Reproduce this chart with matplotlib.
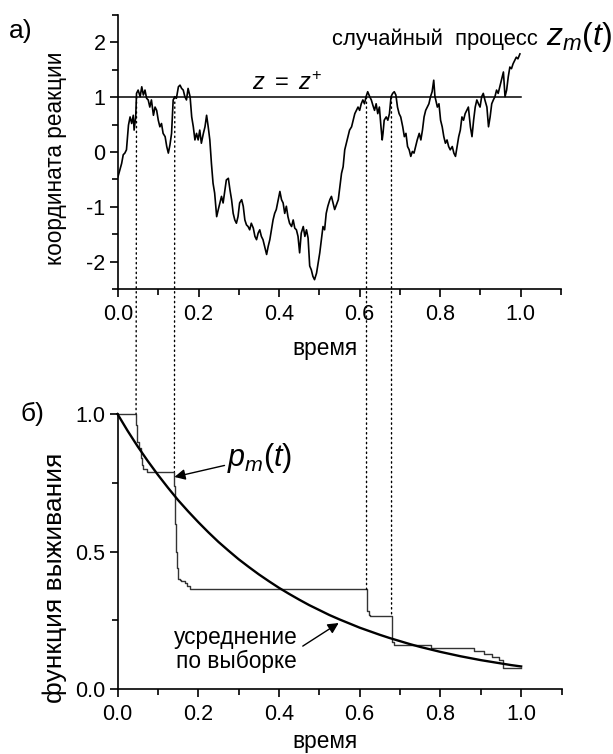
import matplotlib
matplotlib.use('Agg')
import matplotlib.pyplot as plt
from matplotlib.patches import ConnectionPatch

# ---------------- data ----------------
# panel a) random process z_m(t)
path_t = [0.000, 0.009, 0.013, 0.017, 0.021, 0.026, 0.030, 0.034, 0.038, 0.040,
          0.044, 0.046, 0.050, 0.055, 0.059, 0.063, 0.067, 0.071, 0.075, 0.079,
          0.083, 0.088, 0.092, 0.096, 0.100, 0.104, 0.108, 0.112, 0.117, 0.121,
          0.125, 0.129, 0.133, 0.137, 0.141, 0.145, 0.150, 0.154, 0.158, 0.162,
          0.166, 0.170, 0.174, 0.179, 0.183, 0.187, 0.191, 0.195, 0.199, 0.203,
          0.207, 0.212, 0.216, 0.220, 0.224, 0.228, 0.232, 0.236, 0.240, 0.245,
          0.249, 0.253, 0.257, 0.261, 0.265, 0.269, 0.274, 0.278, 0.282, 0.286,
          0.290, 0.294, 0.298, 0.302, 0.307, 0.311, 0.315, 0.319, 0.323, 0.327,
          0.331, 0.336, 0.340, 0.344, 0.348, 0.352, 0.356, 0.360, 0.364, 0.369,
          0.373, 0.377, 0.381, 0.385, 0.389, 0.393, 0.398, 0.402, 0.406, 0.410,
          0.414, 0.418, 0.422, 0.426, 0.431, 0.435, 0.439, 0.443, 0.447, 0.451,
          0.455, 0.460, 0.464, 0.468, 0.472, 0.476, 0.480, 0.484, 0.488, 0.493,
          0.497, 0.501, 0.505, 0.509, 0.513, 0.517, 0.521, 0.526, 0.530, 0.534,
          0.538, 0.547, 0.551, 0.555, 0.559, 0.563, 0.567, 0.571, 0.575, 0.580,
          0.584, 0.588, 0.592, 0.596, 0.600, 0.604, 0.608, 0.612, 0.616, 0.620,
          0.625, 0.629, 0.633, 0.637, 0.641, 0.645, 0.649, 0.653, 0.656, 0.658,
          0.661, 0.666, 0.670, 0.674, 0.678, 0.682, 0.686, 0.690, 0.694, 0.698,
          0.702, 0.707, 0.711, 0.715, 0.719, 0.723, 0.727, 0.731, 0.735, 0.739,
          0.743, 0.748, 0.752, 0.756, 0.760, 0.764, 0.768, 0.772, 0.776, 0.780,
          0.784, 0.787, 0.789, 0.793, 0.797, 0.801, 0.805, 0.809, 0.813, 0.817,
          0.821, 0.825, 0.830, 0.834, 0.838, 0.842, 0.846, 0.850, 0.854, 0.858,
          0.862, 0.866, 0.870, 0.875, 0.879, 0.883, 0.887, 0.891, 0.895, 0.899,
          0.903, 0.907, 0.911, 0.916, 0.920, 0.924, 0.928, 0.932, 0.936, 0.940,
          0.944, 0.948, 0.952, 0.957, 0.961, 0.965, 0.969, 0.973, 0.977, 0.981,
          0.985, 0.989, 0.993, 0.998]
path_z = [-0.45, -0.21, -0.05, -0.02, 0.04, 0.49, 0.64, 0.52, 0.67, 0.40,
          0.64, 1.07, 1.13, 1.01, 1.19, 1.04, 1.13, 0.98, 0.95, 0.82,
          0.95, 0.67, 0.82, 0.76, 0.58, 0.46, 0.52, 0.34, 0.28, 0.10,
          -0.02, 0.13, 0.34, 0.95, 1.01, 0.98, 1.19, 1.22, 1.16, 1.13,
          1.01, 0.95, 1.16, 1.01, 0.64, 0.46, 0.22, 0.34, 0.22, 0.40,
          0.16, 0.34, 0.46, 0.67, 0.46, 0.22, -0.21, -0.57, -0.75, -1.18,
          -1.05, -0.93, -0.81, -0.93, -0.72, -0.51, -0.48, -0.69, -0.87, -1.12,
          -1.24, -1.30, -1.18, -0.93, -0.87, -0.99, -1.24, -1.33, -1.36, -1.42,
          -1.30, -1.39, -1.54, -1.60, -1.48, -1.42, -1.54, -1.60, -1.72, -1.87,
          -1.72, -1.60, -1.42, -1.24, -1.12, -1.05, -0.87, -0.72, -0.87, -0.93,
          -1.12, -0.99, -1.18, -1.30, -1.36, -1.24, -1.39, -1.42, -1.54, -1.84,
          -1.48, -1.36, -1.54, -1.42, -1.57, -2.08, -2.15, -2.27, -2.33, -2.21,
          -2.02, -1.84, -1.60, -1.36, -1.42, -1.12, -0.99, -0.87, -0.81, -0.93,
          -1.05, -0.87, -0.63, -0.39, -0.27, 0.04, 0.16, 0.28, 0.40, 0.46,
          0.58, 0.70, 0.76, 0.82, 0.76, 0.88, 0.95, 0.88, 1.01, 1.10,
          1.01, 0.95, 0.85, 0.76, 0.88, 0.70, 0.82, 0.46, 0.22, 0.34,
          0.58, 0.64, 0.58, 0.70, 1.01, 1.07, 1.10, 1.04, 0.82, 0.70,
          0.64, 0.46, 0.28, 0.34, 0.10, 0.04, -0.08, 0.01, -0.02, 0.10,
          0.22, 0.34, 0.22, 0.40, 0.64, 0.76, 0.82, 0.88, 1.01, 1.10,
          1.31, 1.01, 0.95, 0.82, 0.88, 0.58, 0.46, 0.28, 0.16, 0.22,
          0.10, 0.04, 0.10, -0.02, -0.08, 0.10, 0.28, 0.40, 0.64, 0.58,
          0.70, 0.76, 0.82, 0.46, 0.28, 0.58, 0.82, 0.95, 0.88, 0.82,
          1.01, 1.07, 0.95, 0.82, 0.46, 0.64, 0.88, 0.95, 1.01, 1.13,
          1.07, 1.19, 1.31, 1.46, 1.01, 1.13, 1.37, 1.55, 1.52, 1.61,
          1.67, 1.73, 1.70, 1.79]

# threshold z = z+
z_plus = 1.0
threshold_t = [0.0, 1.0]

# panel b) survival function of this path p_m(t) (step function)
surv_t = [0.000, 0.047, 0.049, 0.053, 0.057, 0.060, 0.063, 0.073,
          0.141, 0.143, 0.145, 0.147, 0.149, 0.154, 0.158, 0.166, 0.172, 0.180,
          0.617, 0.619, 0.622, 0.626,
          0.679, 0.681, 0.685,
          0.777, 0.884, 0.907, 0.927, 0.944, 0.956, 1.000]
surv_p = [1.000, 0.960, 0.900, 0.875, 0.840, 0.815, 0.800, 0.790,
          0.740, 0.600, 0.500, 0.440, 0.400, 0.398, 0.392, 0.385, 0.375, 0.362,
          0.320, 0.285, 0.270, 0.264,
          0.220, 0.172, 0.160,
          0.148, 0.139, 0.128, 0.116, 0.104, 0.078, 0.078]

# sample-averaged survival function
avg_t = [0.000, 0.025, 0.050, 0.075, 0.100, 0.125, 0.150, 0.175, 0.200, 0.225,
         0.250, 0.275, 0.300, 0.325, 0.350, 0.375, 0.400, 0.425, 0.450, 0.475,
         0.500, 0.525, 0.550, 0.575, 0.600, 0.625, 0.650, 0.675, 0.700, 0.725,
         0.750, 0.775, 0.800, 0.825, 0.850, 0.875, 0.900, 0.925, 0.950, 0.975, 1.000]
avg_p = [1.000, 0.939, 0.882, 0.829, 0.779, 0.732, 0.687, 0.646, 0.607, 0.570,
         0.535, 0.503, 0.472, 0.444, 0.417, 0.392, 0.368, 0.346, 0.325, 0.305,
         0.287, 0.269, 0.253, 0.238, 0.223, 0.210, 0.197, 0.185, 0.174, 0.163,
         0.153, 0.144, 0.135, 0.127, 0.119, 0.112, 0.105, 0.099, 0.093, 0.087, 0.082]

# first-passage times and the corresponding survival levels
cross_t = [0.046, 0.141, 0.617, 0.679]
cross_p = [1.000, 0.790, 0.362, 0.264]

x_ticks = [0.0, 0.2, 0.4, 0.6, 0.8, 1.0]
x_tick_labels = ["0.0", "0.2", "0.4", "0.6", "0.8", "1.0"]
x_minor = [0.1, 0.3, 0.5, 0.7, 0.9, 1.1]
z_ticks = [-2, -1, 0, 1, 2]
z_tick_labels = ["-2", "-1", "0", "1", "2"]
z_minor = [-2.5, -1.5, -0.5, 0.5, 1.5, 2.5]
p_ticks = [0.0, 0.5, 1.0]
p_tick_labels = ["0.0", "0.5", "1.0"]
p_minor = [0.25, 0.75]

# ---------------- style ----------------
plt.rcParams['font.family'] = ['Liberation Sans', 'DejaVu Sans']
plt.rcParams['mathtext.fontset'] = 'custom'
plt.rcParams['mathtext.rm'] = 'Liberation Sans'
plt.rcParams['mathtext.it'] = 'Liberation Sans:italic'

LABEL = 16.3
TICK = 15.5

W, H = 613, 754
fig = plt.figure(figsize=(W / 100, H / 100), dpi=100)
ax1 = fig.add_axes([118 / W, 1 - 289 / H, 443 / W, 274 / H])
ax2 = fig.add_axes([117.5 / W, 1 - 689 / H, 444 / W, 275 / H])


def style(ax):
    for s in ['top', 'right']:
        ax.spines[s].set_visible(False)
    for s in ['left', 'bottom']:
        ax.spines[s].set_linewidth(1.2)
    ax.tick_params(which='both', direction='out', width=1.2, labelsize=TICK)
    ax.tick_params(which='major', length=6)
    ax.tick_params(which='minor', length=4)
    ax.tick_params(axis='x', which='major', pad=5)
    ax.tick_params(axis='y', which='major', pad=3)
    ax.set_xlim(0, 1.1)
    ax.set_xticks(x_ticks, x_tick_labels)
    ax.set_xticks(x_minor, minor=True)


style(ax1)
style(ax2)

# panel a
ax1.plot(path_t, path_z, color='black', lw=1.2)
ax1.plot(threshold_t, [z_plus] * len(threshold_t), color='black', lw=1.1)
ax1.set_ylim(-2.5, 2.5)
ax1.set_yticks(z_ticks, z_tick_labels)
ax1.set_yticks(z_minor, minor=True)
ax1.set_xlabel('время', fontsize=LABEL)
ax1.xaxis.set_label_coords(0.467, -0.175)
ax1.set_ylabel('координата реакции', fontsize=LABEL)
ax1.yaxis.set_label_coords(-0.115, 0.478)
ax1.text(0.42, 1.13, r'$z\ =\ z^{+}$', fontsize=17, ha='center', va='baseline')
ax1.text(0.531, 1.95, 'случайный  процесс', fontsize=15.8, ha='left', va='baseline')
ax1.text(1.062, 1.96, r'$z_m(t)$', fontsize=23, ha='left', va='baseline', clip_on=False)

# panel b
ax2.plot(surv_t, surv_p, color='#333333', lw=1.0, drawstyle='steps-post', clip_on=False)
ax2.plot(avg_t, avg_p, color='black', lw=1.7, clip_on=False)
ax2.set_ylim(0, 1.0)
ax2.set_yticks(p_ticks, p_tick_labels)
ax2.set_yticks(p_minor, minor=True)
ax2.set_xlabel('время', fontsize=LABEL)
ax2.xaxis.set_label_coords(0.467, -0.15)
ax2.set_ylabel('функция выживания', fontsize=19)
ax2.yaxis.set_label_coords(-0.114, 0.404)

ax2.annotate(r'$p_m(t)$', xy=(0.141, 0.771), xytext=(0.272, 0.84),
             fontsize=22, ha='left', va='center',
             arrowprops=dict(arrowstyle='-|>', color='black', lw=1.0,
                             mutation_scale=16, shrinkA=0, shrinkB=0,
                             relpos=(0.0, 0.3)))
ax2.text(0.294, 0.142, 'усреднение\nпо выборке', fontsize=LABEL, ha='center',
         va='center', multialignment='center', linespacing=1.05)
ax2.annotate('', xy=(0.548, 0.24), xytext=(0.459, 0.156),
             arrowprops=dict(arrowstyle='-|>', color='black', lw=1.0,
                             mutation_scale=16, shrinkA=0, shrinkB=0))

# dotted connectors between the two panels
for t, p in zip(cross_t, cross_p):
    con = ConnectionPatch(xyA=(t, z_plus), coordsA=ax1.transData,
                          xyB=(t, p), coordsB=ax2.transData,
                          color='black', lw=1.0, linestyle=(0, (1, 2.5)))
    fig.add_artist(con)

fig.text(9 / W, 1 - 38 / H, 'а)', fontsize=19, ha='left', va='baseline')
fig.text(21 / W, 1 - 421 / H, 'б)', fontsize=19, ha='left', va='baseline')

fig.savefig('out.png', dpi=100)
